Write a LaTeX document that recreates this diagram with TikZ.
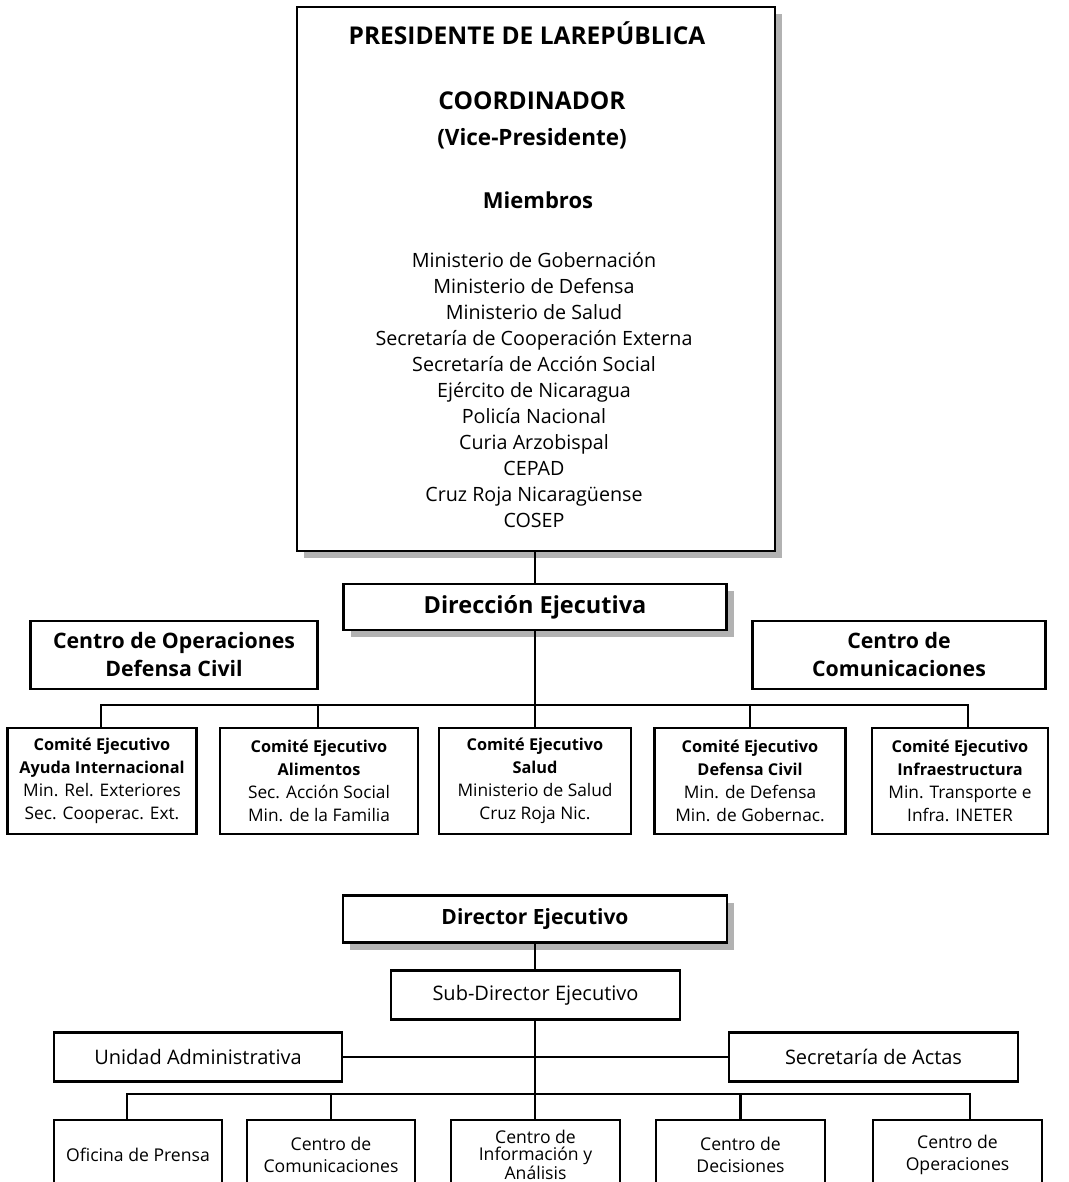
\documentclass[tikz,border=0pt]{standalone}
\usepackage{fontspec}
\setmainfont{Open Sans}
\usetikzlibrary{shadows}
\begin{document}
\begin{tikzpicture}[x=1pt,y=-1pt,
  every node/.style={inner sep=0pt, outer sep=0pt},
  box/.style={draw, line width=2.6pt, fill=white, align=center},
  shad/.style={drop shadow={shadow xshift=7pt, shadow yshift=-7pt, fill=black!30, opacity=1}},
  conn/.style={line width=2.8pt},
  mem/.style={font=\fontsize{19.7}{22}\selectfont, anchor=base},
  cbox/.style={box, minimum height=106pt, font=\fontsize{17.3}{23}\selectfont},
  hbox/.style={box, minimum height=68pt, font=\fontsize{21.3}{28}\selectfont\bfseries},
  sbox/.style={box, minimum height=49pt, minimum width=288pt, font=\fontsize{20}{22}\selectfont},
  bbox/.style={box, minimum height=70pt, minimum width=168pt, font=\fontsize{17.6}{22}\selectfont}
]
\path[use as bounding box, clip] (0,0) rectangle (1068,1182);

% ---------- top box ----------
\node[box, shad, minimum width=478pt, minimum height=544pt] (pres) at (536,279) {};
\node[anchor=base, font=\fontsize{24.5}{26}\selectfont\bfseries] (tpres) at (527,45) {PRESIDENTE DE LAREPÚBLICA};
\node[anchor=base, font=\fontsize{24.5}{26}\selectfont\bfseries] (tcoord) at (532,110) {COORDINADOR};
\node[anchor=base, font=\fontsize{22.5}{24}\selectfont\bfseries] (tvice) at (532,146) {(Vice-Presidente)};
\node[anchor=base, font=\fontsize{22}{24}\selectfont\bfseries] (tmiem) at (538,209) {Miembros};
\foreach \t [count=\i] in {Ministerio de Gobernación, Ministerio de Defensa, Ministerio de Salud,
  Secretaría de Cooperación Externa, Secretaría de Acción Social, Ejército de Nicaragua,
  Policía Nacional, Curia Arzobispal, CEPAD, Cruz Roja Nicaragüense, COSEP}
  \node[mem] (m\i) at (534,{267+26*(\i-1)}) {\t};

% ---------- direccion ejecutiva ----------
\node[box, shad, minimum width=383pt, minimum height=46pt, font=\fontsize{23.5}{26}\selectfont\bfseries] (dir) at (535,607) {Dirección Ejecutiva};
\node[hbox, minimum width=287pt] (cop) at (174,655) {Centro de Operaciones\\Defensa Civil};
\node[hbox, minimum width=293pt] (ccom) at (899,655) {Centro de\\Comunicaciones};

\node[cbox, minimum width=189pt] (c1) at (102,781) {\textbf{\fontsize{16.3}{23}\selectfont Comité Ejecutivo}\\\textbf{\fontsize{16.3}{23}\selectfont Ayuda Internacional}\\Min. Rel. Exteriores\\Sec. Cooperac. Ext.};
\node[cbox, minimum width=198pt] (c2) at (319,781) {\textbf{\fontsize{16.3}{23}\selectfont Comité Ejecutivo}\\\textbf{\fontsize{16.3}{23}\selectfont Alimentos}\\Sec. Acción Social\\Min. de la Familia};
\node[cbox, minimum width=192pt] (c3) at (535,781) {\textbf{\fontsize{16.3}{23}\selectfont Comité Ejecutivo}\\\textbf{\fontsize{16.3}{23}\selectfont Salud}\\Ministerio de Salud\\Cruz Roja Nic.};
\node[cbox, minimum width=191pt] (c4) at (750,781) {\textbf{\fontsize{16.3}{23}\selectfont Comité Ejecutivo}\\\textbf{\fontsize{16.3}{23}\selectfont Defensa Civil}\\Min. de Defensa\\Min. de Gobernac.};
\node[cbox, minimum width=176pt] (c5) at (960,781) {\textbf{\fontsize{16.3}{23}\selectfont Comité Ejecutivo}\\\textbf{\fontsize{16.3}{23}\selectfont Infraestructura}\\Min. Transporte e\\Infra. INETER};

\coordinate (busA) at (535,705);
\draw[conn] (pres.south -| dir.north) -- (dir.north);
\draw[conn] (dir.south) -- (c3.north);
\draw[conn] ([xshift=-1pt]c1.north) -- ([xshift=-1pt]c1.north |- busA) -- ([xshift=8pt]c5.north |- busA) -- ([xshift=8pt]c5.north);
\draw[conn] ([xshift=-1pt]c2.north) -- ([xshift=-1pt]c2.north |- busA);
\draw[conn] (c4.north) -- (c4.north |- busA);

% ---------- director ejecutivo ----------
\node[box, shad, minimum width=384pt, minimum height=47pt, font=\fontsize{21}{24}\selectfont\bfseries] (dire) at (535,919) {Director Ejecutivo};
\node[sbox, minimum width=289pt] (sub) at (535.5,995) {Sub-Director Ejecutivo};
\node[sbox] (ua) at (198,1057) {Unidad Administrativa};
\node[sbox, minimum width=289pt] (sa) at (873.5,1057) {Secretaría de Actas};

\node[bbox] (b1) at (138,1155) {Oficina de Prensa};
\node[bbox] (b2) at (331,1155) {Centro de\\Comunicaciones};
\node[bbox, minimum width=169pt, font=\fontsize{17.6}{17}\selectfont] (b3) at (535.5,1155) {Centro de\\Información y\\Análisis};
\node[bbox, minimum width=169pt] (b4) at (740.5,1155) {Centro de\\Decisiones};
\node[bbox, minimum width=169pt] (b5) at (957.5,1155) {Centro de\\Operaciones};

\coordinate (busB) at (535,1094);
\draw[conn] (dire.south) -- (dire.south |- sub.north);
\draw[conn] (sub.south -| dire.south) -- (dire.south |- b3.north);
\draw[conn] (ua.east) -- (sa.west);
\draw[conn] ([xshift=-11pt]b1.north) -- ([xshift=-11pt]b1.north |- busB) -- ([xshift=12.5pt]b5.north |- busB) -- ([xshift=12.5pt]b5.north);
\draw[conn] (b2.north) -- (b2.north |- busB);
\draw[conn] (b4.north) -- (b4.north |- busB);
\end{tikzpicture}
\end{document}
